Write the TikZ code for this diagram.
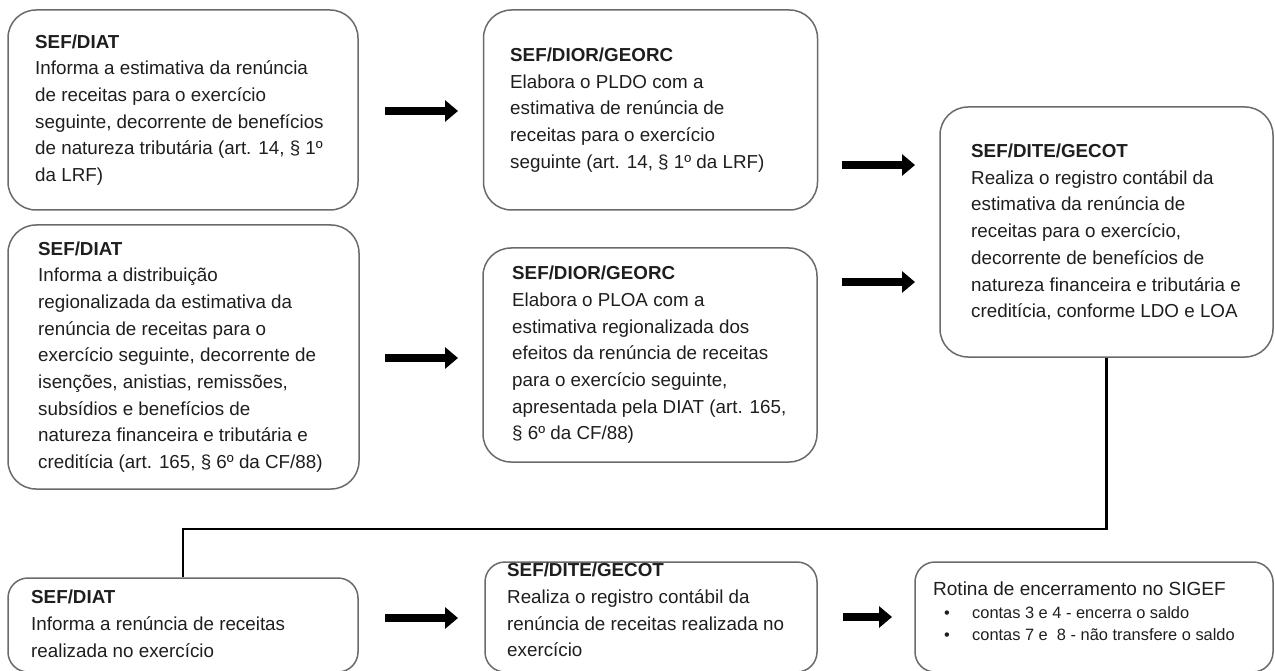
\documentclass[tikz,border=0pt]{standalone}
\usepackage{fontspec}
\setmainfont{Liberation Sans}
\usetikzlibrary{arrows.meta}
\definecolor{boxgray}{HTML}{6A6A6A}
\definecolor{txt}{HTML}{1E1E1E}
\begin{document}
\begin{tikzpicture}[x=1pt,y=-1pt,
  box/.style={draw=boxgray,line width=1.5pt,rounded corners=28pt,inner sep=0pt},
  sbox/.style={draw=boxgray,line width=1.5pt,rounded corners=20pt,inner sep=0pt},
  txtnode/.style={inner sep=0pt,align=left,text=txt,font=\fontsize{18.8}{26.7}\selectfont,anchor=west},
  bultxt/.style={inner sep=0pt,align=left,text=txt,font=\fontsize{16.4}{22}\selectfont,anchor=west},
  bigarrow/.style={line width=8.5pt,-{Triangle[length=13pt,width=21pt]}},
  link/.style={line width=2.8pt}
]
\useasboundingbox (0,0) rectangle (1275,671);
% boxes
\node[box,minimum width=350pt,minimum height=200pt] (b1) at (183,110) {};
\node[box,minimum width=334pt,minimum height=200pt] (b2) at (650.5,110) {};
\node[box,minimum width=333pt,minimum height=250pt] (b3) at (1106.5,232) {};
\node[box,minimum width=351pt,minimum height=264pt] (b4) at (183.5,357) {};
\node[box,minimum width=334pt,minimum height=214pt] (b5) at (650,355) {};
\node[sbox,minimum width=350pt,minimum height=94pt] (b6) at (183,625) {};
\node[sbox,minimum width=332pt,minimum height=110pt] (b7) at (651,617) {};
\node[sbox,minimum width=358pt,minimum height=110pt] (b8) at (1094,617) {};
% texts
\node[txtnode] (t1) at (35,110) {\textbf{SEF/DIAT}\\Informa a estimativa da renúncia\\de receitas para o exercício\\seguinte, decorrente de benefícios\\de natureza tributária (art. 14, § 1º\\da LRF)};
\node[txtnode] (t2) at (510,110) {\textbf{SEF/DIOR/GEORC}\\Elabora o PLDO com a\\estimativa de renúncia de\\receitas para o exercício\\seguinte (art. 14, § 1º da LRF)};
\node[txtnode] (t3) at (971,232) {\textbf{SEF/DITE/GECOT}\\Realiza o registro contábil da\\estimativa da renúncia de\\receitas para o exercício,\\decorrente de benefícios de\\natureza financeira e tributária e\\creditícia, conforme LDO e LOA};
\node[txtnode] (t4) at (38,357) {\textbf{SEF/DIAT}\\Informa a distribuição\\regionalizada da estimativa da\\renúncia de receitas para o\\exercício seguinte, decorrente de\\isenções, anistias, remissões,\\subsídios e benefícios de\\natureza financeira e tributária e\\creditícia (art. 165, § 6º da CF/88)};
\node[txtnode] (t5) at (512,355) {\textbf{SEF/DIOR/GEORC}\\Elabora o PLOA com a\\estimativa regionalizada dos\\efeitos da renúncia de receitas\\para o exercício seguinte,\\apresentada pela DIAT (art. 165,\\§ 6º da CF/88)};
\node[txtnode,anchor=north west] (t6) at (31,590) {\textbf{SEF/DIAT}\\Informa a renúncia de receitas\\realizada no exercício};
\node[txtnode,anchor=north west] (t7) at (507,563) {\textbf{SEF/DITE/GECOT}\\Realiza o registro contábil da\\renúncia de receitas realizada no\\exercício};
\node[txtnode,font=\fontsize{19}{26}\selectfont] (t8) at (933,589) {Rotina de encerramento no SIGEF};
\node[bultxt] (t8a) at (944,613) {\makebox[28pt][l]{•}contas 3 e 4 - encerra o saldo};
\node[bultxt] (t8b) at (944,635) {\makebox[28pt][l]{•}contas 7 e \ 8 - não transfere o saldo};
% arrows
\coordinate (a1s) at (385,111); \coordinate (a1e) at (458,111);
\coordinate (a2s) at (842,165); \coordinate (a2e) at (915,165);
\coordinate (a3s) at (385,358); \coordinate (a3e) at (458,358);
\coordinate (a4s) at (842,282); \coordinate (a4e) at (915,282);
\coordinate (a5s) at (385,618); \coordinate (a5e) at (458,618);
\coordinate (a6s) at (843,617); \coordinate (a6e) at (892,617);
\draw[bigarrow] (a1s) -- (a1e);
\draw[bigarrow] (a2s) -- (a2e);
\draw[bigarrow] (a3s) -- (a3e);
\draw[bigarrow] (a4s) -- (a4e);
\draw[bigarrow] (a5s) -- (a5e);
\draw[bigarrow] (a6s) -- (a6e);
% connector
\coordinate (mid) at (0,529);
\draw[link] (b3.south) -- (b3.south |- mid) -| (b6.north);
\end{tikzpicture}
\end{document}
